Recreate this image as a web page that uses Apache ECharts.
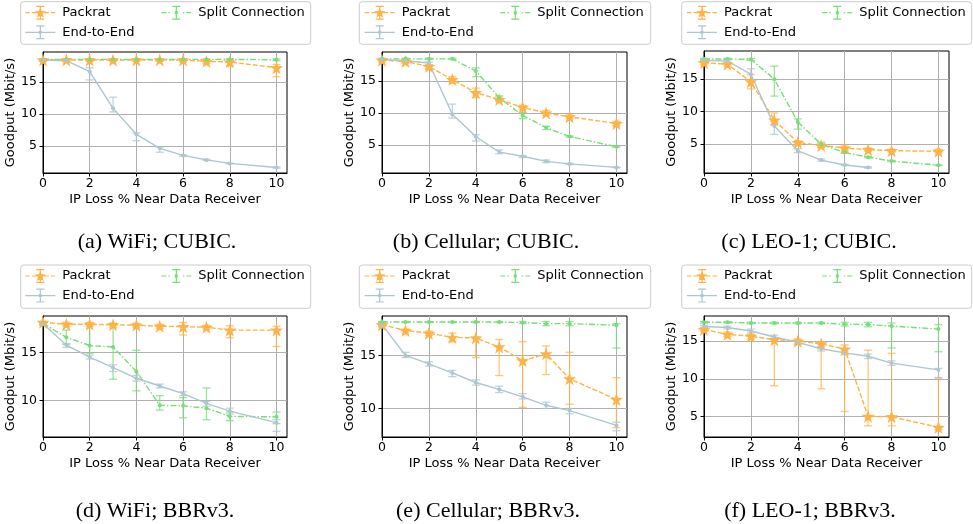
<!DOCTYPE html>
<html>
<head>
<meta charset="utf-8">
<script src="https://cdn.jsdelivr.net/npm/echarts@6/dist/echarts.min.js"></script>
<style>
html, body { margin: 0; padding: 0; background: #fff; }
#chart { width: 973px; height: 524px; }
</style>
</head>
<body>
<div id="chart"></div>
<script>
let lossPct = [0, 1, 2, 3, 4, 5, 6, 7, 8, 10];
let xTicks = [0, 2, 4, 6, 8, 10];
let methods = ['Packrat', 'Split Connection', 'End-to-End'];
let captions = ['(a) WiFi; CUBIC.', '(b) Cellular; CUBIC.', '(c) LEO-1; CUBIC.',
    '(d) WiFi; BBRv3.', '(e) Cellular; BBRv3.', '(f) LEO-1; BBRv3.'];

// (a) WiFi; CUBIC
let wifiCubicPackrat = [18.4, 18.4, 18.4, 18.4, 18.4, 18.4, 18.4, 18.2, 18.1, 17.2];
let wifiCubicPackratErr = [[18.2, 18.6], [18.2, 18.6], [18.2, 18.6], [18.2, 18.6], [18.2, 18.6], [18.2, 18.6], [18.1, 18.6], [17.9, 18.4], [17.5, 18.6], [15.8, 17.7]];
let wifiCubicSplit = [18.5, 18.5, 18.5, 18.5, 18.5, 18.5, 18.5, 18.5, 18.5, 18.45];
let wifiCubicSplitErr = [[18.4, 18.6], [18.4, 18.6], [18.4, 18.6], [18.4, 18.6], [18.4, 18.6], [18.4, 18.6], [18.4, 18.6], [18.4, 18.6], [18.4, 18.6], [18.3, 18.6]];
let wifiCubicE2E = [18.4, 18.3, 16.6, 10.85, 6.8, 4.6, 3.5, 2.8, 2.25, 1.6];
let wifiCubicE2EErr = [[18.3, 18.5], [18.1, 18.5], [15.3, 17.2], [10.3, 12.6], [5.8, 7.0], [4.0, 4.8], [3.4, 3.6], [2.7, 2.9], [2.2, 2.3], [1.5, 1.7]];

// (b) Cellular; CUBIC
let cellCubicPackrat = [18.3, 18.1, 17.3, 15.25, 13.2, 12.1, 10.9, 10.0, 9.4, 8.35];
let cellCubicPackratErr = [[18.0, 18.5], [17.8, 18.4], [16.9, 17.6], [14.7, 15.7], [12.4, 13.9], [11.8, 12.5], [10.6, 11.2], [9.7, 10.4], [9.1, 9.7], [8.0, 8.7]];
let cellCubicSplit = [18.5, 18.5, 18.5, 18.5, 16.6, 12.4, 9.6, 7.7, 6.3, 4.7];
let cellCubicSplitErr = [[18.4, 18.6], [18.4, 18.6], [18.4, 18.6], [18.4, 18.6], [15.7, 17.1], [11.9, 12.7], [9.1, 10.1], [7.4, 7.9], [6.2, 6.4], [4.6, 4.8]];
let cellCubicE2E = [18.4, 18.2, 17.85, 9.8, 6.3, 3.85, 3.2, 2.4, 2.0, 1.45];
let cellCubicE2EErr = [[18.3, 18.5], [18.0, 18.3], [17.0, 18.0], [9.2, 11.4], [5.6, 6.6], [3.6, 4.2], [3.0, 3.3], [2.2, 2.6], [1.9, 2.1], [1.4, 1.5]];

// (c) LEO-1; CUBIC
let leoCubicPackrat = [17.55, 17.3, 14.6, 8.7, 5.25, 4.8, 4.4, 4.15, 4.0, 3.9];
let leoCubicPackratErr = [[17.2, 17.9], [17.0, 17.6], [13.5, 15.7], [8.0, 9.8], [4.9, 5.5], [4.5, 5.1], [4.1, 4.7], [3.9, 4.4], [3.8, 4.2], [3.6, 4.2]];
let leoCubicSplit = [18.1, 18.1, 18.05, 15.0, 8.4, 5.0, 3.7, 3.0, 2.4, 1.75];
let leoCubicSplitErr = [[18.0, 18.2], [18.0, 18.2], [17.9, 18.2], [12.4, 17.0], [7.3, 8.9], [4.5, 5.3], [3.6, 3.8], [2.9, 3.1], [2.3, 2.5], [1.7, 1.8]];
let leoCubicE2E = [17.9, 17.8, 15.75, 7.8, 4.0, 2.55, 1.8, 1.4];
let leoCubicE2EErr = [[17.7, 18.0], [17.6, 18.0], [14.6, 16.6], [6.5, 8.5], [3.7, 4.3], [2.4, 2.7], [1.7, 1.9], [1.3, 1.5]];

// (d) WiFi; BBRv3
let wifiBbrPackrat = [18.1, 17.9, 17.9, 17.85, 17.8, 17.7, 17.65, 17.6, 17.3, 17.3];
let wifiBbrPackratErr = [[18.0, 18.2], [17.7, 18.1], [17.7, 18.1], [17.6, 18.0], [17.6, 18.0], [17.5, 17.9], [16.8, 18.1], [17.4, 17.8], [16.5, 17.75], [15.6, 17.7]];
let wifiBbrSplit = [18.0, 16.55, 15.7, 15.55, 13.0, 9.5, 9.45, 9.2, 8.35, 8.3];
let wifiBbrSplitErr = [[17.9, 18.1], [15.8, 17.3], [14.9, 17.9], [12.2, 18.0], [11.0, 15.2], [9.0, 10.5], [8.2, 10.3], [8.0, 11.3], [7.9, 8.8], [7.6, 8.8]];
let wifiBbrE2E = [17.95, 15.75, 14.5, 13.4, 12.3, 11.5, 10.7, 9.7, 8.9, 7.7];
let wifiBbrE2EErr = [[17.8, 18.1], [15.5, 15.9], [14.3, 14.7], [13.0, 13.7], [12.0, 12.6], [11.3, 11.7], [10.5, 10.9], [9.4, 9.9], [8.6, 9.2], [6.8, 8.0]];

// (e) Cellular; BBRv3
let cellBbrPackrat = [17.9, 17.35, 17.1, 16.7, 16.65, 15.8, 14.5, 15.15, 12.8, 10.85];
let cellBbrPackratErr = [[17.7, 18.0], [17.1, 17.5], [16.9, 17.3], [16.3, 17.1], [14.8, 16.7], [13.1, 16.5], [10.1, 16.3], [13.2, 15.9], [10.4, 15.3], [8.2, 12.9]];
let cellBbrSplit = [18.15, 18.15, 18.15, 18.15, 18.15, 18.15, 18.1, 18.0, 18.0, 17.85];
let cellBbrSplitErr = [[18.1, 18.2], [18.1, 18.2], [18.1, 18.2], [18.1, 18.2], [18.1, 18.2], [18.1, 18.2], [18.0, 18.2], [17.8, 18.2], [17.8, 18.2], [15.7, 18.0]];
let cellBbrE2E = [17.9, 15.0, 14.2, 13.35, 12.45, 11.8, 11.1, 10.3, 9.8, 8.4];
let cellBbrE2EErr = [[17.8, 18.0], [14.8, 15.3], [14.0, 14.4], [13.0, 13.6], [12.2, 12.7], [11.5, 12.1], [10.9, 11.4], [10.0, 10.6], [9.5, 10.0], [7.9, 8.7]];

// (f) LEO-1; BBRv3
let leoBbrPackrat = [16.55, 15.9, 15.65, 15.2, 15.0, 14.65, 13.95, 5.05, 5.0, 3.6];
let leoBbrPackratErr = [[16.3, 16.8], [15.6, 16.2], [15.3, 15.9], [9.1, 15.4], [14.6, 15.3], [8.7, 14.9], [5.7, 14.5], [3.8, 13.8], [3.8, 13.4], [3.3, 10.2]];
let leoBbrSplit = [17.5, 17.5, 17.4, 17.4, 17.4, 17.4, 17.25, 17.2, 17.0, 16.6];
let leoBbrSplitErr = [[17.4, 17.6], [17.4, 17.6], [17.3, 17.5], [17.3, 17.5], [17.3, 17.5], [17.3, 17.5], [17.0, 17.5], [16.9, 17.5], [14.1, 17.4], [13.6, 17.2]];
let leoBbrE2E = [16.95, 16.8, 16.35, 15.55, 14.85, 14.0, 13.45, 13.0, 12.1, 11.2];
let leoBbrE2EErr = [[16.8, 17.1], [16.6, 17.0], [16.1, 16.6], [15.3, 15.8], [14.6, 15.1], [13.7, 14.3], [13.2, 13.7], [12.7, 13.3], [11.8, 12.4], [10.1, 11.4]];

let colors = {'Packrat': '#ffb347', 'Split Connection': '#77dd77', 'End-to-End': '#aec6cf'};
let lineTypes = {'Packrat': [5, 2], 'Split Connection': [6, 2, 1.5, 2], 'End-to-End': 'solid'};

let panels = [
    {rect: [43, 52, 244, 121], y: [0.75, 19.66], yTicks: [5, 10, 15],
        vals: [wifiCubicPackrat, wifiCubicSplit, wifiCubicE2E], errs: [wifiCubicPackratErr, wifiCubicSplitErr, wifiCubicE2EErr],
        legend: [20.7, 1.7, 290, 42.6, 62.3, 198.3, 12.7], caption: [157, 242]},
    {rect: [382, 52, 245, 121], y: [0.57, 19.58], yTicks: [5, 10, 15],
        vals: [cellCubicPackrat, cellCubicSplit, cellCubicE2E], errs: [cellCubicPackratErr, cellCubicSplitErr, cellCubicE2EErr],
        legend: [359.3, 1.7, 291.4, 42.6, 401.7, 537.3, 12.7], caption: [486, 242]},
    {rect: [704, 51, 245, 122], y: [0.56, 19.34], yTicks: [5, 10, 15],
        vals: [leoCubicPackrat, leoCubicSplit, leoCubicE2E], errs: [leoCubicPackratErr, leoCubicSplitErr, leoCubicE2EErr],
        legend: [681.7, 1.7, 290, 42.6, 724, 859.3, 12.7], caption: [809, 242]},
    {rect: [43, 316, 244, 121], y: [6.21, 18.76], yTicks: [10, 15],
        vals: [wifiBbrPackrat, wifiBbrSplit, wifiBbrE2E], errs: [wifiBbrPackratErr, wifiBbrSplitErr, wifiBbrE2EErr],
        legend: [20.7, 265, 290, 43.3, 62.3, 198.3, 276], caption: [155, 511]},
    {rect: [382, 316, 245, 121], y: [7.31, 18.72], yTicks: [10, 15],
        vals: [cellBbrPackrat, cellBbrSplit, cellBbrE2E], errs: [cellBbrPackratErr, cellBbrSplitErr, cellBbrE2EErr],
        legend: [359.3, 265, 291.4, 43.3, 401.7, 537.3, 276], caption: [488, 511]},
    {rect: [704, 316, 245, 121], y: [2.32, 18.33], yTicks: [5, 10, 15],
        vals: [leoBbrPackrat, leoBbrSplit, leoBbrE2E], errs: [leoBbrPackratErr, leoBbrSplitErr, leoBbrE2EErr],
        legend: [681.7, 265, 290, 43.3, 724, 859.3, 276], caption: [810, 511]}
];

function starPath(cx, cy, R, r) {
    let p = '';
    for (let i = 0; i < 10; i++) {
        let a = -Math.PI / 2 + i * Math.PI / 5;
        let rad = i % 2 ? r : R;
        p += (i ? 'L' : 'M') + (cx + rad * Math.cos(a)).toFixed(2) + ' ' + (cy + rad * Math.sin(a)).toFixed(2) + ' ';
    }
    return p + 'Z ';
}

function rect(x, y, w, h) {
    return 'M' + x + ' ' + y + ' h' + w + ' v' + h + ' h' + (-w) + ' Z ';
}

// legend handle: line + marker + errorbar, in a 30x14 box
function legendIcon(name) {
    let p = '';
    if (name === 'Packrat') {
        [[0, 4.5], [6.5, 11], [19, 23.5], [25.5, 30]].forEach(s => p += rect(s[0], 6.4, s[1] - s[0], 1.2));
    } else if (name === 'Split Connection') {
        [[0, 5], [7, 8.5], [21.5, 23], [25, 30]].forEach(s => p += rect(s[0], 6.4, s[1] - s[0], 1.2));
    } else {
        p += rect(0, 6.4, 30, 1.2);
    }
    p += rect(14.4, 0, 1.2, 14) + rect(11, 0, 8, 1.2) + rect(11, 12.8, 8, 1.2);
    p += name === 'Packrat' ? starPath(15, 7.3, 6, 2.4) : rect(13.5, 5.5, 3, 3);
    return 'path://' + p;
}

function errorBarItem(color) {
    return function (params, api) {
        let top = api.coord([api.value(0), api.value(2)]);
        let bot = api.coord([api.value(0), api.value(1)]);
        let st = {stroke: color, lineWidth: 1.3, opacity: 0.75};
        return {
            type: 'group',
            children: [
                {type: 'line', shape: {x1: top[0], y1: top[1], x2: bot[0], y2: bot[1]}, style: st},
                {type: 'line', shape: {x1: top[0] - 4, y1: top[1], x2: top[0] + 4, y2: top[1]}, style: st},
                {type: 'line', shape: {x1: bot[0] - 4, y1: bot[1], x2: bot[0] + 4, y2: bot[1]}, style: st}
            ]
        };
    };
}

let tickFont = {fontFamily: 'DejaVu Sans', fontSize: 12.5, color: '#000'};
let nameFont = {fontFamily: 'DejaVu Sans', fontSize: 13, color: '#000'};
let grids = [], xAxes = [], yAxes = [], series = [], legends = [], graphics = [];

panels.forEach(function (pn, i) {
    grids.push({left: pn.rect[0], top: pn.rect[1], width: pn.rect[2], height: pn.rect[3],
        show: true, borderColor: '#000', borderWidth: 1, backgroundColor: '#fff'});
    xAxes.push({
        type: 'value', gridIndex: i, min: 0, max: 10.45,
        name: 'IP Loss % Near Data Receiver', nameLocation: 'middle', nameGap: 20,
        nameTextStyle: nameFont,
        axisLine: {show: true, lineStyle: {color: '#000', width: 1}},
        axisTick: {show: true, length: 3.5, lineStyle: {color: '#000'}, customValues: xTicks},
        axisLabel: Object.assign({margin: 4, customValues: xTicks}, tickFont),
        splitLine: {show: true, lineStyle: {color: '#b0b0b0', width: 1}}
    });
    yAxes.push({
        type: 'value', gridIndex: i, min: pn.y[0], max: pn.y[1],
        name: 'Goodput (Mbit/s)', nameLocation: 'middle', nameGap: 24,
        nameTextStyle: nameFont,
        axisLine: {show: true, lineStyle: {color: '#000', width: 1}},
        axisTick: {show: true, length: 3.5, lineStyle: {color: '#000'}, customValues: pn.yTicks},
        axisLabel: Object.assign({margin: 6, customValues: pn.yTicks}, tickFont),
        splitLine: {show: true, lineStyle: {color: '#b0b0b0', width: 1}}
    });

    methods.forEach(function (m, k) {
        let c = colors[m];
        series.push({
            name: m + ' err', type: 'custom', xAxisIndex: i, yAxisIndex: i, silent: true, z: 2,
            renderItem: errorBarItem(c), encode: {x: 0, y: [1, 2]},
            data: pn.errs[k].map((e, j) => [lossPct[j], e[0], e[1]])
        });
        series.push({
            name: m, type: 'line', xAxisIndex: i, yAxisIndex: i, silent: true, z: 3,
            data: pn.vals[k].map((v, j) => [lossPct[j], v]),
            symbol: m === 'Packrat' ? 'path://' + starPath(0, 0, 10, 4) : 'circle',
            symbolSize: m === 'Packrat' ? 13 : 4,
            lineStyle: {color: c, width: 1.4, type: lineTypes[m]},
            itemStyle: {color: c, borderWidth: 0},
            animation: false
        });
    });

    let lg = pn.legend;
    graphics.push({type: 'rect', z: 5, shape: {x: lg[0], y: lg[1], width: lg[2], height: lg[3], r: 3},
        style: {fill: 'rgba(255,255,255,0.85)', stroke: '#cccccc', lineWidth: 1}});
    let common = {
        orient: 'vertical', itemWidth: 30, itemHeight: 14, itemGap: 5.6, padding: 0, z: 10,
        selectedMode: false, itemStyle: {borderWidth: 0},
        textStyle: {fontFamily: 'DejaVu Sans', fontSize: 13, color: '#000', lineHeight: 14, padding: [0, 0, 0, 2]}
    };
    legends.push(Object.assign({left: lg[4] - 37, top: lg[6] - 7,
        data: [{name: 'Packrat', icon: legendIcon('Packrat')}, {name: 'End-to-End', icon: legendIcon('End-to-End')}]}, common));
    legends.push(Object.assign({left: lg[5] - 37, top: lg[6] - 7,
        data: [{name: 'Split Connection', icon: legendIcon('Split Connection')}]}, common));

    graphics.push({type: 'text', x: pn.caption[0], y: pn.caption[1], z: 5,
        style: {text: captions[i], fill: '#000', font: '22px "Liberation Serif"', textAlign: 'center', verticalAlign: 'middle'}});
});

let myChart = echarts.init(document.getElementById('chart'), null, {renderer: 'canvas'});
let option = {
    backgroundColor: '#fff',
    animation: false,
    grid: grids,
    xAxis: xAxes,
    yAxis: yAxes,
    legend: legends,
    graphic: graphics,
    series: series
};
myChart.setOption(option);
</script>
</body>
</html>
